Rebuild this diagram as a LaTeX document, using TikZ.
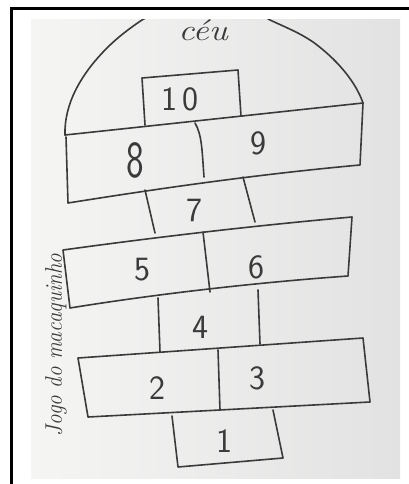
\documentclass[tikz,border=0pt]{standalone}
\begin{document}
\begin{tikzpicture}[x=1pt,y=-1pt,
  pen/.style={draw=ink,line width=1.6pt,line join=round,line cap=round},
  num/.style={text=ink,font=\sffamily\fontsize{34}{38}\selectfont,inner sep=0pt},
  hand/.style={text=ink,font=\itshape\fontsize{24}{26}\selectfont,inner sep=0pt}]
\definecolor{ink}{HTML}{3A3A3A}
\definecolor{paperL}{HTML}{F5F5F4}
\definecolor{paperR}{HTML}{E2E2E2}
\useasboundingbox (0,0) rectangle (409,484);
\fill[white] (0,0) rectangle (409,484);
% paper
\shade[left color=paperL,right color=paperR] (31,20) rectangle (400,478);
% frame
\draw[black,line width=3pt] (11.5,484) -- (11.5,8.5) -- (409,8.5);
% dome
\begin{scope}
\clip (31,20) rectangle (400,478);
\draw[pen] (65,135) .. controls (64,105) and (80,75) .. (107,48)
  .. controls (118,37) and (130,28) .. (142,20)
  .. controls (180,-2) and (235,-2) .. (270,20)
  .. controls (285,27) and (300,33) .. (313,42)
  .. controls (335,58) and (355,80) .. (363,103);
\end{scope}
\coordinate (dL) at (65,135);
\coordinate (dR) at (363,103);
\draw[pen] (dL) .. controls (150,126) and (260,114) .. (dR);
% box 10
\draw[pen] (145,125) -- (142,78) -- (238,70) -- (241,116);
% row 8|9
\draw[pen] (66,137) -- (68,203) .. controls (150,190) and (250,175) .. (360,165) -- (363,103);
\draw[pen] (195,123) .. controls (202,135) and (202,150) .. (204,177);
% row 7
\draw[pen] (145,190) -- (155,233);
\draw[pen] (243,177) -- (255,222);
% row 5|6
\draw[pen] (63,250) .. controls (150,238) and (250,226) .. (352,217) -- (348,276) .. controls (250,283) and (150,295) .. (70,308) -- cycle;
\draw[pen] (203,232) -- (210,292);
% row 4
\draw[pen] (158,298) -- (160,352);
\draw[pen] (258,290) -- (260,344);
% row 2|3
\draw[pen] (78,358) -- (363,338) -- (370,402) -- (88,417) -- cycle;
\draw[pen] (218,350) -- (220,410);
% box 1
\draw[pen] (172,416) -- (178,467) -- (283,458) -- (273,410);
% numbers
\node[num] (n10) at (180,99) {1\,0};
\node[num] (n9) at (258,143) {9};
\node[num,font=\sffamily\fontsize{52}{56}\selectfont] (n8) at (135,160) {\scalebox{0.72}[1]{8}};
\node[num] (n7) at (194,210) {7};
\node[num] (n5) at (142,270) {5};
\node[num] (n6) at (256,267) {6};
\node[num] (n4) at (200,327) {4};
\node[num] (n2) at (157,388) {2};
\node[num] (n3) at (257,378) {3};
\node[num] (n1) at (224,441) {1};
% handwritten labels
\node[hand,font=\itshape\fontsize{30}{32}\selectfont] (ceu) at (203,30) {\scalebox{1.2}[1]{céu}};
\node[hand,rotate=90] (jogo) at (56,345) {\scalebox{0.88}[1]{Jogo do macaquinho}};
\end{tikzpicture}
\end{document}
